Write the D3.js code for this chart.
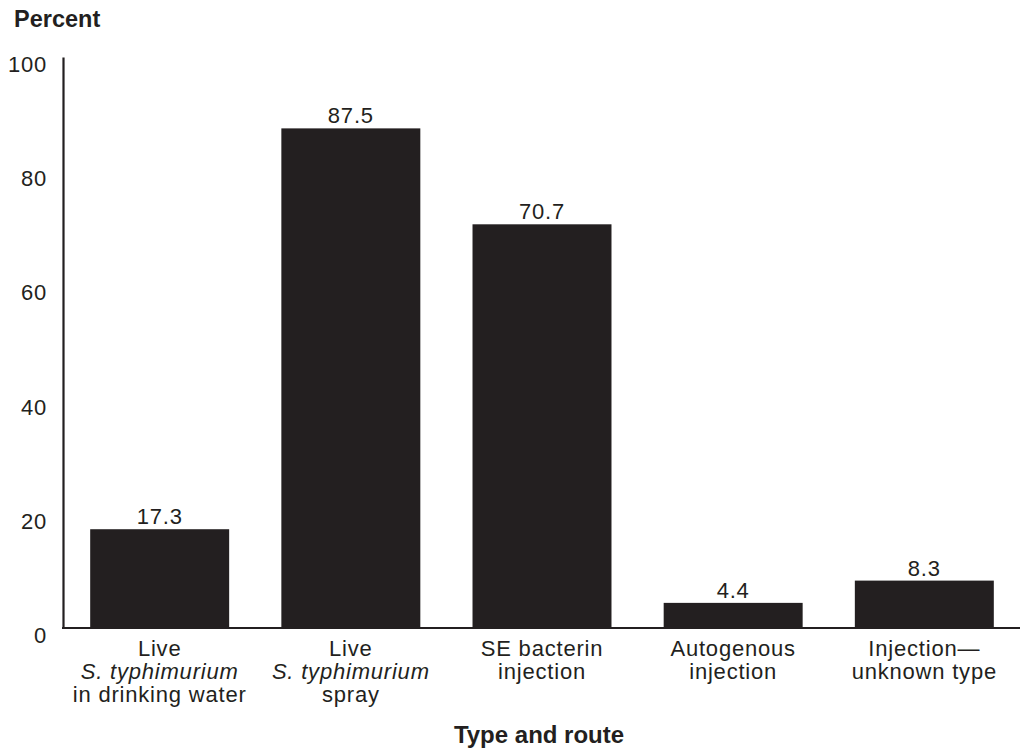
<!DOCTYPE html>
<html>
<head>
<meta charset="utf-8">
<script src="https://cdn.jsdelivr.net/npm/d3@7"></script>
<style>
  html, body { margin: 0; padding: 0; background: #fff; }
  svg { display: block; font-family: "Liberation Sans", Arial, sans-serif; }
</style>
</head>
<body>
<svg id="chart" width="1021" height="751"></svg>
<script>
// Vaccine type and route, percent of operations
const categories = ["live_water", "live_spray", "se_bacterin", "autogenous", "inj_unknown"];
const labelLines = [
  [["Live", false], ["S. typhimurium", true], ["in drinking water", false]],
  [["Live", false], ["S. typhimurium", true], ["spray", false]],
  [["SE bacterin", false], ["injection", false]],
  [["Autogenous", false], ["injection", false]],
  [["Injection\u2014", false], ["unknown type", false]]
];
const values = [17.3, 87.5, 70.7, 4.4, 8.3];
const yTicks = [0, 20, 40, 60, 80, 100];

const svg = d3.select("#chart");
const ink = "#231f20";
const fs = 22;
const ls = 0.8;

const x = d3.scaleBand()
  .domain(categories)
  .range([64, 1020])
  .paddingInner(0.273)
  .paddingOuter(0.137);

const y = d3.scaleLinear().domain([0, 100]).range([628, 57]);

// bars
svg.append("g").selectAll("rect")
  .data(values)
  .join("rect")
  .attr("x", (d, i) => x(categories[i]))
  .attr("width", x.bandwidth())
  .attr("y", d => y(d))
  .attr("height", d => y(0) - y(d))
  .attr("fill", ink);

// value labels
svg.append("g").selectAll("text")
  .data(values)
  .join("text")
  .attr("x", (d, i) => x(categories[i]) + x.bandwidth() / 2)
  .attr("y", d => y(d) - 5)
  .attr("text-anchor", "middle")
  .attr("font-size", fs)
  .attr("letter-spacing", ls)
  .attr("fill", ink)
  .text(d => d.toFixed(1));

// y axis line and baseline
const yAxis = d3.axisLeft(y).tickValues(yTicks).tickSize(0).tickPadding(16);
const yg = svg.append("g").attr("transform", "translate(63,0)").call(yAxis);
yg.select(".domain").attr("stroke", ink).attr("stroke-width", 2.2);
yg.selectAll(".tick text")
  .attr("font-size", fs)
  .attr("letter-spacing", ls)
  .attr("font-family", "Liberation Sans, Arial, sans-serif")
  .attr("fill", ink)
  .attr("dy", "0.34em")
  .attr("transform", "translate(0,7)");

svg.append("line")
  .attr("x1", 62).attr("x2", 1020)
  .attr("y1", y(0)).attr("y2", y(0))
  .attr("stroke", ink).attr("stroke-width", 2.2);

// category labels
const cat = svg.append("g");
labelLines.forEach((lines, i) => {
  const cx = x(categories[i]) + x.bandwidth() / 2;
  const t = cat.append("text")
    .attr("text-anchor", "middle")
    .attr("font-size", fs)
    .attr("letter-spacing", ls)
    .attr("fill", ink);
  lines.forEach(([s, it], j) => {
    t.append("tspan")
      .attr("x", cx)
      .attr("y", 656 + j * 23)
      .attr("font-style", it ? "italic" : "normal")
      .text(s);
  });
});

// titles
svg.append("text")
  .attr("x", 14).attr("y", 27)
  .attr("font-size", 23.5).attr("font-weight", "bold")
  .attr("fill", ink)
  .text("Percent");

svg.append("text")
  .attr("x", 539).attr("y", 743)
  .attr("text-anchor", "middle")
  .attr("font-size", 24).attr("font-weight", "bold")
  .attr("fill", ink)
  .text("Type and route");
</script>
</body>
</html>
